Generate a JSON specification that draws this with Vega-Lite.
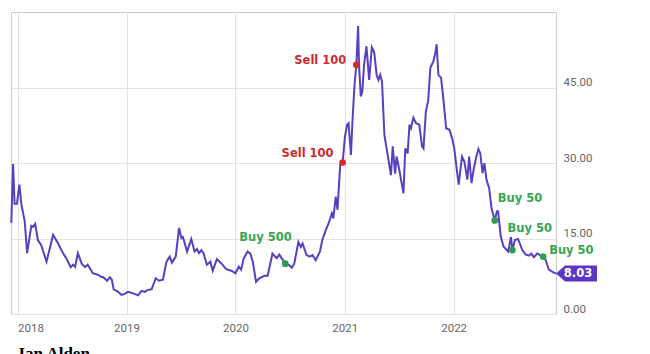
{
  "$schema": "https://vega.github.io/schema/vega-lite/v6.json",
  "width": 545,
  "height": 302,
  "autosize": "none",
  "padding": {"left": 11, "top": 12, "right": 94, "bottom": 40},
  "background": "white",
  "title": {"text": "Grayscale Bitcoin Trust (BTC) (GBTC) Price", "anchor": "start", "font": "Roboto", "fontSize": 13, "fontWeight": "normal", "color": "#555555", "offset": 9, "baseline": "alphabetic", "dx": -3},
  "config": {"view": {"stroke": "#cccccc", "strokeWidth": 1}},
  "datasets": {
    "price": [
      {"date": "2017-12-11", "value": 18.1}, {"date": "2017-12-17", "value": 29.8}, {"date": "2017-12-22", "value": 21.9}, {"date": "2017-12-30", "value": 21.9},
      {"date": "2018-01-07", "value": 25.7}, {"date": "2018-01-14", "value": 21.7}, {"date": "2018-01-25", "value": 18.4}, {"date": "2018-02-02", "value": 12.1},
      {"date": "2018-02-16", "value": 17.5}, {"date": "2018-02-22", "value": 17.3}, {"date": "2018-03-01", "value": 17.9}, {"date": "2018-03-10", "value": 14.7},
      {"date": "2018-03-21", "value": 13.7}, {"date": "2018-04-08", "value": 10.4}, {"date": "2018-04-30", "value": 15.7}, {"date": "2018-05-16", "value": 14.1},
      {"date": "2018-06-02", "value": 12.1}, {"date": "2018-06-13", "value": 11.1}, {"date": "2018-06-28", "value": 9.3}, {"date": "2018-07-06", "value": 9.8},
      {"date": "2018-07-13", "value": 9.4}, {"date": "2018-07-22", "value": 12.1}, {"date": "2018-08-04", "value": 10.0}, {"date": "2018-08-15", "value": 9.3},
      {"date": "2018-08-24", "value": 9.8}, {"date": "2018-09-10", "value": 8.1}, {"date": "2018-09-27", "value": 7.8}, {"date": "2018-10-08", "value": 7.4},
      {"date": "2018-10-15", "value": 7.3}, {"date": "2018-10-28", "value": 6.6}, {"date": "2018-11-06", "value": 7.3}, {"date": "2018-11-13", "value": 6.8},
      {"date": "2018-11-19", "value": 4.9}, {"date": "2018-12-04", "value": 4.4}, {"date": "2018-12-15", "value": 3.8}, {"date": "2018-12-26", "value": 4.0},
      {"date": "2019-01-06", "value": 4.4}, {"date": "2019-01-23", "value": 4.1}, {"date": "2019-02-09", "value": 3.7}, {"date": "2019-02-20", "value": 4.6},
      {"date": "2019-03-03", "value": 4.4}, {"date": "2019-03-14", "value": 4.8}, {"date": "2019-03-26", "value": 4.9}, {"date": "2019-04-09", "value": 7.1},
      {"date": "2019-04-20", "value": 6.6}, {"date": "2019-05-03", "value": 6.8}, {"date": "2019-05-15", "value": 10.4}, {"date": "2019-05-26", "value": 11.4},
      {"date": "2019-06-02", "value": 10.2}, {"date": "2019-06-15", "value": 11.4}, {"date": "2019-06-26", "value": 17.1}, {"date": "2019-07-04", "value": 15.1},
      {"date": "2019-07-09", "value": 15.3}, {"date": "2019-07-23", "value": 12.4}, {"date": "2019-08-06", "value": 14.9}, {"date": "2019-08-17", "value": 12.4},
      {"date": "2019-08-25", "value": 12.9}, {"date": "2019-09-01", "value": 12.1}, {"date": "2019-09-09", "value": 12.7}, {"date": "2019-09-16", "value": 12.1},
      {"date": "2019-09-27", "value": 9.8}, {"date": "2019-10-09", "value": 10.4}, {"date": "2019-10-17", "value": 8.6}, {"date": "2019-10-31", "value": 10.9},
      {"date": "2019-11-14", "value": 10.1}, {"date": "2019-12-01", "value": 8.9}, {"date": "2019-12-18", "value": 8.6}, {"date": "2020-01-01", "value": 8.1},
      {"date": "2020-01-12", "value": 9.4}, {"date": "2020-01-20", "value": 8.8}, {"date": "2020-01-29", "value": 11.1}, {"date": "2020-02-11", "value": 12.4},
      {"date": "2020-02-20", "value": 12.0}, {"date": "2020-02-28", "value": 10.4}, {"date": "2020-03-10", "value": 6.4}, {"date": "2020-03-21", "value": 7.1},
      {"date": "2020-04-07", "value": 7.6}, {"date": "2020-04-18", "value": 7.6}, {"date": "2020-05-04", "value": 12.0}, {"date": "2020-05-18", "value": 11.1},
      {"date": "2020-05-27", "value": 11.8}, {"date": "2020-06-07", "value": 10.8}, {"date": "2020-06-16", "value": 10.0}, {"date": "2020-06-29", "value": 9.7},
      {"date": "2020-07-08", "value": 9.2}, {"date": "2020-07-16", "value": 10.0}, {"date": "2020-07-30", "value": 14.3}, {"date": "2020-08-07", "value": 13.3},
      {"date": "2020-08-13", "value": 14.0}, {"date": "2020-08-26", "value": 11.7}, {"date": "2020-09-06", "value": 11.4}, {"date": "2020-09-15", "value": 11.7},
      {"date": "2020-09-26", "value": 10.7}, {"date": "2020-10-10", "value": 12.4}, {"date": "2020-10-18", "value": 14.7}, {"date": "2020-10-30", "value": 16.7},
      {"date": "2020-11-10", "value": 18.3}, {"date": "2020-11-19", "value": 20.0}, {"date": "2020-11-24", "value": 19.0}, {"date": "2020-12-02", "value": 23.3},
      {"date": "2020-12-08", "value": 20.7}, {"date": "2020-12-17", "value": 29.6}, {"date": "2020-12-25", "value": 30.1}, {"date": "2021-01-02", "value": 35.3},
      {"date": "2021-01-09", "value": 37.6}, {"date": "2021-01-14", "value": 37.9}, {"date": "2021-01-22", "value": 31.6}, {"date": "2021-01-27", "value": 38.2},
      {"date": "2021-02-03", "value": 45.6}, {"date": "2021-02-09", "value": 49.5}, {"date": "2021-02-15", "value": 57.2}, {"date": "2021-02-18", "value": 49.5},
      {"date": "2021-02-24", "value": 43.2}, {"date": "2021-03-01", "value": 44.2}, {"date": "2021-03-07", "value": 49.5}, {"date": "2021-03-15", "value": 53.2},
      {"date": "2021-03-24", "value": 46.5}, {"date": "2021-04-02", "value": 53.0}, {"date": "2021-04-10", "value": 52.0}, {"date": "2021-04-18", "value": 47.5},
      {"date": "2021-04-24", "value": 46.5}, {"date": "2021-04-30", "value": 47.5}, {"date": "2021-05-06", "value": 46.2}, {"date": "2021-05-14", "value": 35.6},
      {"date": "2021-05-25", "value": 31.6}, {"date": "2021-06-05", "value": 27.6}, {"date": "2021-06-11", "value": 33.3}, {"date": "2021-06-19", "value": 27.9},
      {"date": "2021-06-24", "value": 31.3}, {"date": "2021-07-03", "value": 28.6}, {"date": "2021-07-17", "value": 24.0}, {"date": "2021-07-23", "value": 32.9},
      {"date": "2021-07-31", "value": 31.9}, {"date": "2021-08-06", "value": 37.6}, {"date": "2021-08-11", "value": 36.9}, {"date": "2021-08-19", "value": 39.0},
      {"date": "2021-08-28", "value": 37.9}, {"date": "2021-09-08", "value": 37.6}, {"date": "2021-09-17", "value": 33.3}, {"date": "2021-09-22", "value": 32.9},
      {"date": "2021-09-30", "value": 40.2}, {"date": "2021-10-08", "value": 42.5}, {"date": "2021-10-15", "value": 48.9}, {"date": "2021-10-25", "value": 50.2},
      {"date": "2021-11-01", "value": 51.9}, {"date": "2021-11-05", "value": 53.6}, {"date": "2021-11-11", "value": 47.5}, {"date": "2021-11-20", "value": 46.9},
      {"date": "2021-11-28", "value": 42.5}, {"date": "2021-12-07", "value": 36.9}, {"date": "2021-12-18", "value": 36.6}, {"date": "2021-12-27", "value": 34.9},
      {"date": "2022-01-03", "value": 33.0}, {"date": "2022-01-11", "value": 29.0}, {"date": "2022-01-18", "value": 25.7}, {"date": "2022-01-29", "value": 31.3},
      {"date": "2022-02-06", "value": 30.3}, {"date": "2022-02-16", "value": 26.7}, {"date": "2022-02-22", "value": 31.3}, {"date": "2022-03-02", "value": 26.0},
      {"date": "2022-03-09", "value": 28.7}, {"date": "2022-03-17", "value": 31.0}, {"date": "2022-03-25", "value": 32.8}, {"date": "2022-03-31", "value": 32.0},
      {"date": "2022-04-08", "value": 28.0}, {"date": "2022-04-14", "value": 30.0}, {"date": "2022-04-21", "value": 26.7}, {"date": "2022-04-30", "value": 25.0},
      {"date": "2022-05-08", "value": 21.0}, {"date": "2022-05-19", "value": 18.6}, {"date": "2022-05-26", "value": 20.4}, {"date": "2022-05-30", "value": 20.4},
      {"date": "2022-06-08", "value": 15.4}, {"date": "2022-06-17", "value": 13.4}, {"date": "2022-07-03", "value": 12.4}, {"date": "2022-07-12", "value": 15.3},
      {"date": "2022-07-17", "value": 12.7}, {"date": "2022-07-25", "value": 14.7}, {"date": "2022-08-05", "value": 14.9}, {"date": "2022-08-19", "value": 12.7},
      {"date": "2022-08-31", "value": 11.8}, {"date": "2022-09-11", "value": 11.6}, {"date": "2022-09-18", "value": 12.0}, {"date": "2022-09-27", "value": 11.3},
      {"date": "2022-10-08", "value": 12.0}, {"date": "2022-10-21", "value": 11.6}, {"date": "2022-10-28", "value": 11.4}, {"date": "2022-11-05", "value": 10.8},
      {"date": "2022-11-16", "value": 8.8}, {"date": "2022-11-27", "value": 8.4}, {"date": "2022-12-10", "value": 8.03}
    ],
    "events": [
      {"id": 1, "date": "2020-06-16", "value": 10.0, "kind": "Buy", "label": "Buy 500"},
      {"id": 2, "date": "2020-12-25", "value": 30.1, "kind": "Sell", "label": "Sell 100"},
      {"id": 3, "date": "2021-02-09", "value": 49.5, "kind": "Sell", "label": "Sell 100"},
      {"id": 4, "date": "2022-05-19", "value": 18.6, "kind": "Buy", "label": "Buy 50"},
      {"id": 5, "date": "2022-07-17", "value": 12.7, "kind": "Buy", "label": "Buy 50"},
      {"id": 6, "date": "2022-10-28", "value": 11.4, "kind": "Buy", "label": "Buy 50"}
    ],
    "last": [{"date": "2022-12-10", "value": 8.03, "label": "8.03"}]
  },
  "encoding": {
    "x": {
      "field": "date", "type": "temporal",
      "scale": {"domain": [{"year": 2017, "month": 12, "date": 10}, {"year": 2022, "month": 12, "date": 10}]},
      "axis": {"title": "Ian Alden", "format": "%Y", "tickCount": {"interval": "year", "step": 1}, "grid": true, "gridColor": "#e3e3e3", "domain": false, "ticks": false,
        "labelFont": "Roboto", "labelFontSize": 11.5, "labelColor": "#666666", "labelPadding": 8, "labelFlush": 10,
        "titleFont": "Liberation Serif", "titleFontSize": 17, "titleFontWeight": "bold", "titleColor": "#000000", "titleAnchor": "start", "titleAlign": "left", "titleBaseline": "top", "titlePadding": 12, "titleX": 7}
    },
    "y": {
      "field": "value", "type": "quantitative",
      "scale": {"domain": [0, 60], "nice": false},
      "axis": {"orient": "right", "values": [0, 15, 30, 45], "format": ".2f", "grid": true, "gridColor": "#e3e3e3", "domain": false, "ticks": false, "labelPadding": 7, "labelBaseline": "bottom", "labelFont": "Roboto", "labelFontSize": 11.5, "labelColor": "#666666", "title": null}
    }
  },
  "layer": [
    {"data": {"name": "price"}, "mark": {"type": "line", "color": "#5a3fc0", "strokeWidth": 2}},
    {"data": {"name": "events"}, "mark": {"type": "point", "filled": true, "opacity": 1, "size": 45},
      "encoding": {"color": {"field": "kind", "type": "nominal", "scale": {"domain": ["Buy", "Sell"], "range": ["#2f9e4f", "#d42a30"]}, "legend": null}}},
    {"data": {"name": "events"}, "transform": [{"filter": "datum.id == 1"}], "mark": {"type": "text", "align": "left", "baseline": "middle", "dx": -46, "dy": -26, "font": "DejaVu Sans", "fontWeight": "bold", "fontSize": 11.5, "color": "#37a552"}, "encoding": {"text": {"field": "label"}}},
    {"data": {"name": "events"}, "transform": [{"filter": "datum.id == 2"}], "mark": {"type": "text", "align": "right", "baseline": "middle", "dx": -9, "dy": -8, "font": "DejaVu Sans", "fontWeight": "bold", "fontSize": 11.5, "color": "#cc2a2e"}, "encoding": {"text": {"field": "label"}}},
    {"data": {"name": "events"}, "transform": [{"filter": "datum.id == 3"}], "mark": {"type": "text", "align": "right", "baseline": "middle", "dx": -10, "dy": -4, "font": "DejaVu Sans", "fontWeight": "bold", "fontSize": 11.5, "color": "#cc2a2e"}, "encoding": {"text": {"field": "label"}}},
    {"data": {"name": "events"}, "transform": [{"filter": "datum.id == 4"}], "mark": {"type": "text", "align": "left", "baseline": "middle", "dx": 3, "dy": -21, "font": "DejaVu Sans", "fontWeight": "bold", "fontSize": 11.5, "color": "#37a552"}, "encoding": {"text": {"field": "label"}}},
    {"data": {"name": "events"}, "transform": [{"filter": "datum.id == 5"}], "mark": {"type": "text", "align": "left", "baseline": "middle", "dx": -5, "dy": -21, "font": "DejaVu Sans", "fontWeight": "bold", "fontSize": 11.5, "color": "#37a552"}, "encoding": {"text": {"field": "label"}}},
    {"data": {"name": "events"}, "transform": [{"filter": "datum.id == 6"}], "mark": {"type": "text", "align": "left", "baseline": "middle", "dx": 6, "dy": -6, "font": "DejaVu Sans", "fontWeight": "bold", "fontSize": 11.5, "color": "#37a552"}, "encoding": {"text": {"field": "label"}}},
    {"data": {"name": "last"}, "mark": {"type": "point", "filled": true, "opacity": 1, "color": "#5b37c4", "strokeWidth": 0, "size": 6724, "shape": "M0,0 L0.22,-0.195 L1,-0.195 L1,0.195 L0.22,0.195 Z"}},
    {"data": {"name": "last"}, "mark": {"type": "text", "align": "center", "baseline": "middle", "dx": 22, "font": "DejaVu Sans", "fontWeight": "bold", "fontSize": 11.5, "color": "#ffffff"}, "encoding": {"text": {"field": "label"}}}
  ]
}
